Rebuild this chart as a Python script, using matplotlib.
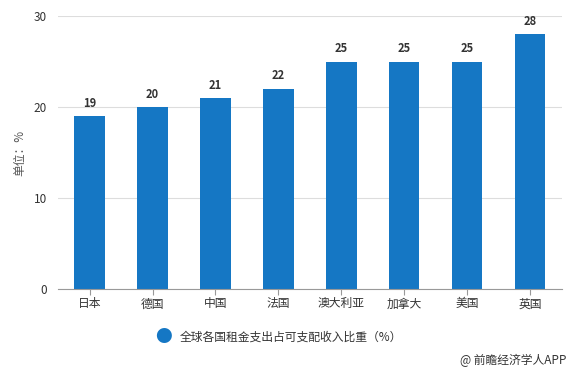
import matplotlib.pyplot as plt

plt.rcParams['font.family'] = ['Noto Sans CJK SC', 'DejaVu Sans']

# 全球各国租金支出占可支配收入比重
countries = ['日本', '德国', '中国', '法国', '澳大利亚', '加拿大', '美国', '英国']
ratios = [19, 20, 21, 22, 25, 25, 25, 28]

bar_color = '#1577c4'

fig = plt.figure(figsize=(5.75, 3.72), dpi=100)
ax = fig.add_axes([0.101, 0.223, 0.876, 0.734])

x = range(len(countries))
bars = ax.bar(x, ratios, width=0.48, color=bar_color, zorder=3)

for xi, v in zip(x, ratios):
    ax.text(xi, v + 0.7, str(v), ha='center', va='bottom', fontsize=8,
            fontweight='bold', color='#333333')

ax.set_xlim(-0.5, len(countries) - 0.5)
ax.set_ylim(0, 30)
ax.set_yticks([0, 10, 20, 30])
ax.set_xticks(list(x))
ax.set_xticklabels(countries)
ax.tick_params(axis='x', length=4, color='#999999', labelsize=8.5,
               labelcolor='#333333', pad=2)
ax.tick_params(axis='y', length=0, labelsize=8.5, labelcolor='#333333', pad=8)
ax.yaxis.grid(True, color='#dddddd', linewidth=0.8, zorder=0)

for s in ['top', 'right', 'left']:
    ax.spines[s].set_visible(False)
ax.spines['bottom'].set_color('#999999')
ax.spines['bottom'].set_zorder(4)

ax.set_ylabel('单位：%', fontsize=8.5, color='#555555', labelpad=5)

# 图例
fig.text(0.285, 0.094, '●', fontsize=12, color=bar_color, ha='center', va='center')
fig.text(0.312, 0.094, '全球各国租金支出占可支配收入比重（%）', fontsize=8.5,
         fontweight='medium', color='#333333', ha='left', va='center')

fig.text(0.985, 0.03, '@ 前瞻经济学人APP', fontsize=8.5, color='#333333',
         ha='right', va='center')

fig.savefig('out.png', dpi=100)
